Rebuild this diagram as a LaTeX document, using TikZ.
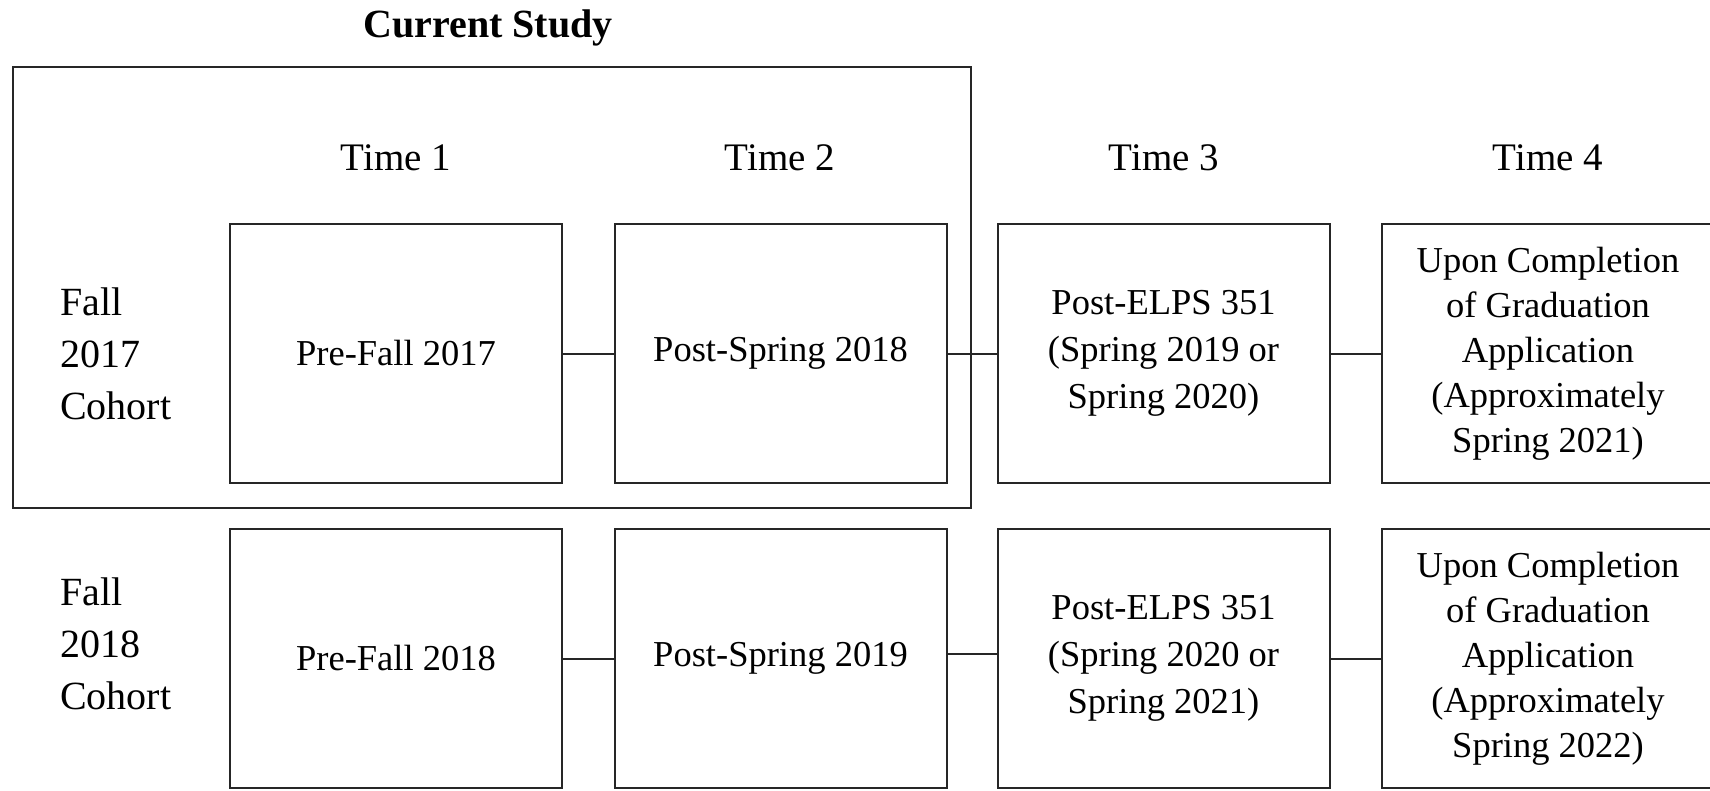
\documentclass[tikz,border=0pt]{standalone}
\usepackage{fontspec}
\setmainfont{Liberation Serif}
\begin{document}
\begin{tikzpicture}[x=1pt,y=-1pt,
  stagebox/.style={draw=black!85,line width=2pt,minimum width=332pt,minimum height=259pt,inner sep=0pt,align=center,font=\fontsize{36.5}{45}\selectfont},
  timelabel/.style={font=\fontsize{39}{45}\selectfont,inner sep=0pt},
  cohort/.style={font=\fontsize{40}{52}\selectfont,align=left,anchor=west,inner sep=0pt},
  link/.style={draw=black!85,line width=2pt}]
\useasboundingbox (0,0) rectangle (1710,790);
\begin{scope}
\clip (0,0) rectangle (1710,790);
% title
\node[font=\bfseries\fontsize{40}{45}\selectfont,inner sep=0pt] (title) at (488,28) {Current Study};
% outer box
\draw[draw=black!85,line width=2pt] (13,66.5) rectangle (971,507.5);
% time labels
\node[timelabel] (t1) at (396,158) {Time 1};
\node[timelabel] (t2) at (780,158) {Time 2};
\node[timelabel] (t3) at (1164,158) {Time 3};
\node[timelabel] (t4) at (1548,158) {Time 4};
% cohort labels
\node[cohort] (c1) at (60,354) {Fall\\2017\\Cohort};
\node[cohort] (c2) at (60,644) {Fall\\2018\\Cohort};
% row 1
\node[stagebox] (a1) at (396,353.5) {Pre-Fall 2017};
\node[stagebox] (a2) at (780.5,353.5) {Post-Spring 2018};
\node[stagebox,font=\fontsize{36.5}{47}\selectfont] (a3) at (1163.5,353.5) {Post-ELPS 351\\(Spring 2019 or\\Spring 2020)};
\node[stagebox] (a4) at (1548,353.5) {Upon Completion\\of Graduation\\Application\\(Approximately\\Spring 2021)};
% row 2
\node[stagebox] (b1) at (396,658.5) {Pre-Fall 2018};
\node[stagebox] (b2) at (780.5,658.5) {Post-Spring 2019};
\node[stagebox,font=\fontsize{36.5}{47}\selectfont] (b3) at (1163.5,658.5) {Post-ELPS 351\\(Spring 2020 or\\Spring 2021)};
\node[stagebox] (b4) at (1548,658.5) {Upon Completion\\of Graduation\\Application\\(Approximately\\Spring 2022)};
% connectors
\draw[link] (a1.east) -- (a2.west);
\draw[link] (a2.east) -- (a3.west);
\draw[link] (a3.east) -- (a4.west);
\draw[link] (b1.east) -- (b2.west);
\draw[link] ([yshift=5pt]b2.east) -- ([yshift=5pt]b3.west);
\draw[link] (b3.east) -- (b4.west);
\end{scope}
\end{tikzpicture}
\end{document}
